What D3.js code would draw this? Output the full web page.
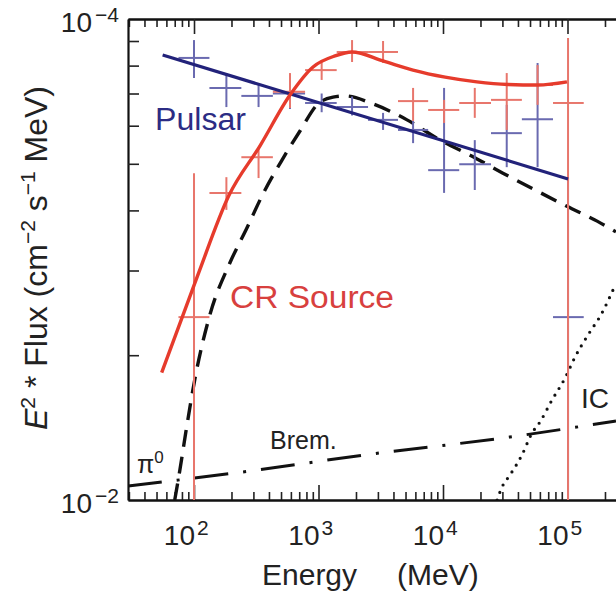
<!DOCTYPE html>
<html><head><meta charset="utf-8">
<script src="https://cdn.jsdelivr.net/npm/d3@7"></script>
<style>
html,body{margin:0;padding:0;background:#fff;}
svg{display:block;font-family:"Liberation Sans",Arial,Helvetica,sans-serif;}
</style></head><body>
<svg id="chart" width="616" height="594"></svg>
<script>
// Energy bins (MeV), shared by both spectra
const binCenter = [100, 182, 330, 590, 1060, 1860, 3300, 5750, 10200, 18000, 32500, 57500, 101000];
const binLow    = [75, 133, 240, 430, 780, 1400, 2500, 4350, 7600, 13500, 24300, 43000, 76500];
const binHigh   = [133, 240, 430, 780, 1400, 2500, 4350, 7600, 13500, 24300, 43000, 76500, 135000];

// CR source spectrum, E^2 * flux; null lower bound = error bar reaches the axis
const srcFlux = [2.40e-5, 4.35e-5, 5.16e-5, 7.06e-5, 7.83e-5, 8.54e-5, 8.54e-5, 6.75e-5, 6.47e-5, 6.69e-5, 6.79e-5, 7.29e-5, 6.69e-5];
const srcHi   = [4.78e-5, 4.69e-5, 5.39e-5, 7.72e-5, 8.22e-5, 9.04e-5, 9.00e-5, 7.19e-5, 6.79e-5, 7.19e-5, 7.72e-5, 8.02e-5, 9.13e-5];
const srcLo   = [null, 4.01e-5, 4.67e-5, 6.53e-5, 7.47e-5, 8.14e-5, 8.10e-5, 6.14e-5, 6.08e-5, 6.23e-5, 5.88e-5, 6.63e-5, null];

// Pulsar spectrum
const psrFlux = [8.30e-5, 7.19e-5, 6.92e-5, 7.00e-5, 6.69e-5, 6.56e-5, 6.17e-5, 5.88e-5, 4.85e-5, 4.99e-5, 5.79e-5, 6.19e-5, 2.40e-5];
const psrHi   = [9.04e-5, 7.72e-5, 7.29e-5, 7.50e-5, 7.00e-5, 6.90e-5, 6.38e-5, 6.14e-5, 7.19e-5, 5.60e-5, 6.63e-5, 8.10e-5, 4.69e-5];
const psrLo   = [7.54e-5, 6.56e-5, 6.56e-5, 6.50e-5, 6.40e-5, 6.30e-5, 5.88e-5, 5.52e-5, 4.35e-5, 4.41e-5, 4.92e-5, 4.92e-5, null];

// Model curves
const srcModelE = [55, 106, 191, 339, 590, 904, 1357, 1857, 3300, 5740, 10400, 18700, 33300, 58000, 99000];
const srcModelF = [1.84e-5, 2.91e-5, 4.30e-5, 5.45e-5, 6.95e-5, 7.95e-5, 8.38e-5, 8.54e-5, 8.18e-5, 7.83e-5, 7.57e-5, 7.40e-5, 7.31e-5, 7.29e-5, 7.40e-5];
const psrModelE = [56, 101000];
const psrModelF = [8.42e-5, 4.65e-5];
const pi0E = [70, 77, 86, 102, 134, 194, 266, 358, 509, 710, 990, 1308, 1633, 2740, 5140, 9460, 16500, 30300, 56900, 99000, 173000, 245000];
const pi0F = [1.0e-5, 1.154e-5, 1.385e-5, 1.793e-5, 2.424e-5, 3.11e-5, 3.676e-5, 4.327e-5, 5.09e-5, 5.85e-5, 6.66e-5, 6.88e-5, 6.92e-5, 6.66e-5, 6.17e-5, 5.60e-5, 5.21e-5, 4.78e-5, 4.39e-5, 4.08e-5, 3.80e-5, 3.61e-5];
const bremE = [29.5, 282, 2360, 34500, 245000];
const bremF = [1.069e-5, 1.149e-5, 1.241e-5, 1.352e-5, 1.46e-5];
const icE = [27200, 29800, 34500, 43100, 51900, 60100, 75100, 95600, 115000, 146000, 189000, 232000];
const icF = [1.0e-5, 1.064e-5, 1.127e-5, 1.241e-5, 1.378e-5, 1.453e-5, 1.614e-5, 1.793e-5, 1.983e-5, 2.203e-5, 2.447e-5, 2.733e-5];

// Axis ranges and tick labels
const xDomain = [29.5, 1e6];
const yDomain = [1e-5, 1e-4];
const xMajor = [1e2, 1e3, 1e4, 1e5];
const xMajorLabels = [["10", "2"], ["10", "3"], ["10", "4"], ["10", "5"]];
const yMajor = [1e-4, 1e-5];
const yMajorLabels = [["10", "\u22124"], ["10", "\u22122"]];

const svg = d3.select("#chart");
const L = 128, T = 19, B = 500;
const x = d3.scaleLog().domain(xDomain).range([L, 692]);
const y = d3.scaleLog().domain(yDomain).range([B, T]);

svg.append("defs").append("clipPath").attr("id", "plot")
  .append("rect").attr("x", L).attr("y", T).attr("width", 700).attr("height", B - T);

const isMajor = v => Math.abs(Math.log10(v) - Math.round(Math.log10(v))) < 1e-9;
const xMinor = x.ticks().filter(v => !isMajor(v));
const yMinor = y.ticks().filter(v => !isMajor(v));

function styleAxis(g) {
  g.select(".domain").attr("stroke", "#111").attr("stroke-width", 2.2);
  g.selectAll(".tick line").attr("stroke", "#222").attr("stroke-width", 1.6);
  g.selectAll(".tick text").remove();
}
// bottom
svg.append("g").attr("transform", `translate(0,${B})`)
  .call(d3.axisBottom(x).tickValues(xMinor).tickSize(-8).tickSizeOuter(0)).call(styleAxis);
svg.append("g").attr("transform", `translate(0,${B})`)
  .call(d3.axisBottom(x).tickValues(xMajor).tickSize(-15).tickSizeOuter(0)).call(styleAxis);
// top
svg.append("g").attr("transform", `translate(0,${T})`)
  .call(d3.axisTop(x).tickValues(xMinor).tickSize(-8).tickSizeOuter(0)).call(styleAxis);
svg.append("g").attr("transform", `translate(0,${T})`)
  .call(d3.axisTop(x).tickValues(xMajor).tickSize(-15).tickSizeOuter(0)).call(styleAxis);
// left
svg.append("g").attr("transform", `translate(${L},0)`)
  .call(d3.axisLeft(y).tickValues(yMinor).tickSize(-11).tickSizeOuter(0)).call(styleAxis);

// tick labels with superscripts
const tickFont = 28, supFont = 21;
xMajor.forEach((v, i) => {
  const xx = x(v);
  svg.append("text").attr("x", xx + 1).attr("y", B + 45).attr("text-anchor", "end")
    .attr("font-size", tickFont).attr("fill", "#222").text(xMajorLabels[i][0]);
  svg.append("text").attr("x", xx + 3).attr("y", B + 35).attr("text-anchor", "start")
    .attr("font-size", supFont).attr("fill", "#222").text(xMajorLabels[i][1]);
});
yMajor.forEach((v, i) => {
  const yy = y(v);
  svg.append("text").attr("x", L - 36).attr("y", yy + 13).attr("text-anchor", "end")
    .attr("font-size", tickFont).attr("fill", "#222").text(yMajorLabels[i][0]);
  svg.append("text").attr("x", L - 9).attr("y", yy + 3).attr("text-anchor", "end")
    .attr("font-size", supFont).attr("fill", "#222").text(yMajorLabels[i][1]);
});

// axis titles
const xt = svg.append("text").attr("y", 585).attr("font-size", 30).attr("fill", "#222");
xt.append("tspan").attr("x", 262).text("Energy");
xt.append("tspan").attr("x", 397).text("(MeV)");

const yt = svg.append("text").attr("transform", "translate(47,258) rotate(-90)")
  .attr("text-anchor", "middle").attr("font-size", 32).attr("fill", "#222");
yt.append("tspan").attr("font-style", "italic").text("E");
yt.append("tspan").attr("font-size", 21).attr("dy", -12).text("2");
yt.append("tspan").attr("dy", 12).text(" * Flux (cm");
yt.append("tspan").attr("font-size", 21).attr("dy", -12).text("\u22122");
yt.append("tspan").attr("dy", 12).text(" s");
yt.append("tspan").attr("font-size", 21).attr("dy", -12).text("\u22121");
yt.append("tspan").attr("dy", 12).text(" MeV)");

const plot = svg.append("g").attr("clip-path", "url(#plot)");
const line = d3.line().x(d => x(d[0])).y(d => y(d[1]));
const smooth = d3.line().x(d => x(d[0])).y(d => y(d[1])).curve(d3.curveMonotoneX);
const zip = (a, b) => a.map((v, i) => [v, b[i]]);

// model curves
plot.append("path").attr("d", smooth(zip(bremE, bremF))).attr("fill", "none")
  .attr("stroke", "#111").attr("stroke-width", 3).attr("stroke-dasharray", "34,15,3,15");
plot.append("path").attr("d", smooth(zip(icE, icF))).attr("fill", "none")
  .attr("stroke", "#111").attr("stroke-width", 3.2).attr("stroke-linecap", "round").attr("stroke-dasharray", "0,8");
plot.append("path").attr("d", smooth(zip(pi0E, pi0F))).attr("fill", "none")
  .attr("stroke", "#111").attr("stroke-width", 3.4).attr("stroke-dasharray", "17,10");

// data crosses
function crosses(flux, lo, hi, color, cls) {
  const g = plot.append("g").attr("class", cls).attr("stroke", color).attr("stroke-width", 2).attr("fill", "none");
  binCenter.forEach((e, i) => {
    g.append("line").attr("x1", x(binLow[i])).attr("x2", x(binHigh[i]))
      .attr("y1", y(flux[i])).attr("y2", y(flux[i]));
    g.append("line").attr("x1", x(e)).attr("x2", x(e))
      .attr("y1", y(hi[i])).attr("y2", lo[i] === null ? B : y(lo[i]));
  });
}
crosses(psrFlux, psrLo, psrHi, "#6a6ab0", "psr");
crosses(srcFlux, srcLo, srcHi, "#e8766c", "src");

plot.append("path").attr("d", line(zip(psrModelE, psrModelF))).attr("fill", "none")
  .attr("stroke", "#22227a").attr("stroke-width", 3.2);
plot.append("path").attr("d", smooth(zip(srcModelE, srcModelF))).attr("fill", "none")
  .attr("stroke", "#e63b2c").attr("stroke-width", 3.4);

// curve labels
svg.append("text").attr("x", 155).attr("y", 130).attr("font-size", 31).attr("fill", "#2c2c84")
  .attr("textLength", 91).attr("lengthAdjust", "spacingAndGlyphs").text("Pulsar");
svg.append("text").attr("x", 230).attr("y", 308).attr("font-size", 31).attr("fill", "#d8403e")
  .attr("textLength", 164).attr("lengthAdjust", "spacingAndGlyphs").text("CR Source");
const pl = svg.append("text").attr("x", 137).attr("y", 473).attr("font-size", 25).attr("fill", "#222");
pl.append("tspan").text("\u03c0");
pl.append("tspan").attr("font-size", 17).attr("dy", -10).text("0");
svg.append("text").attr("x", 270).attr("y", 449).attr("font-size", 25).attr("fill", "#222").text("Brem.");
svg.append("text").attr("x", 581).attr("y", 408).attr("font-size", 28).attr("fill", "#222").text("IC");
</script>
</body></html>
